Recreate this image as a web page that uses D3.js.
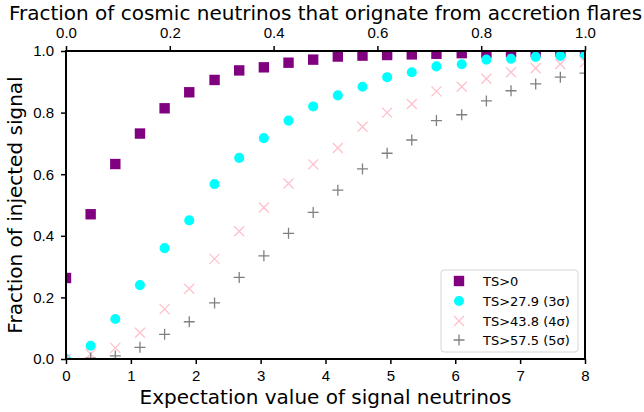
<!DOCTYPE html>
<html lang="en">
<head>
  <meta charset="UTF-8" />
  <title>Fraction of injected signal</title>
  <script src="https://cdn.jsdelivr.net/npm/d3@7"></script>
  <style>
    html, body { margin: 0; padding: 0; background: #fff; overflow: hidden; }
    svg { display: block; font-family: "DejaVu Sans", sans-serif; }
  </style>
</head>
<body>
  <script>
    // expectation value of signal neutrinos (bottom axis)
    const xVals = [0.00, 0.38, 0.76, 1.14, 1.52, 1.90, 2.29, 2.67, 3.05, 3.43, 3.81,
                   4.19, 4.57, 4.95, 5.33, 5.71, 6.10, 6.48, 6.86, 7.24, 7.62, 8.00];

    const ts0  = [0.263, 0.470, 0.633, 0.732, 0.814, 0.866, 0.906, 0.937, 0.947, 0.962, 0.972,
                  0.982, 0.985, 0.987, 0.989, 0.991, 0.993, 0.994, 0.996, 0.997, 0.998, 0.999];
    const ts3s = [0.000, 0.043, 0.130, 0.240, 0.360, 0.450, 0.568, 0.653, 0.717, 0.774, 0.820,
                  0.856, 0.884, 0.915, 0.931, 0.950, 0.957, 0.972, 0.975, 0.981, 0.984, 0.986];
    const ts4s = [0.000, 0.016, 0.036, 0.085, 0.162, 0.228, 0.325, 0.415, 0.492, 0.570, 0.632,
                  0.685, 0.754, 0.800, 0.828, 0.869, 0.884, 0.910, 0.931, 0.944, 0.958, 0.964];
    const ts5s = [0.000, 0.003, 0.010, 0.038, 0.080, 0.121, 0.182, 0.265, 0.335, 0.408, 0.476,
                  0.548, 0.617, 0.668, 0.711, 0.774, 0.793, 0.838, 0.871, 0.893, 0.915, 0.928];

    const seriesNames = ["TS>0", "TS>27.9 (3σ)", "TS>43.8 (4σ)", "TS>57.5 (5σ)"];
    const bottomTicks = [0, 1, 2, 3, 4, 5, 6, 7, 8];
    const topTicks = [0.0, 0.2, 0.4, 0.6, 0.8, 1.0];
    const leftTicks = [0.0, 0.2, 0.4, 0.6, 0.8, 1.0];

    const W = 644, H = 412;
    const m = { left: 66, right: 59, top: 51, bottom: 53 };
    const pw = W - m.left - m.right, ph = H - m.top - m.bottom;

    const svg = d3.select("body").append("svg").attr("width", W).attr("height", H);

    const x = d3.scaleLinear().domain([0, 8]).range([m.left, m.left + pw]);
    const xTop = d3.scaleLinear().domain([0, 1]).range([m.left, m.left + pw]);
    const y = d3.scaleLinear().domain([0, 1]).range([m.top + ph, m.top]);

    svg.append("defs").append("clipPath").attr("id", "plot-clip")
      .append("rect").attr("x", m.left).attr("y", m.top).attr("width", pw).attr("height", ph);

    const plot = svg.append("g").attr("clip-path", "url(#plot-clip)");

    const S = 10.4; // marker size
    const sq = d3.symbol().type(d3.symbolSquare).size(S * S);
    const ci = d3.symbol().type(d3.symbolCircle).size(Math.PI * 25.5);

    // draw one series of markers
    function drawSeries(vals, kind) {
      const g = plot.append("g");
      const pts = vals.map((v, i) => [x(xVals[i]), y(v)]);
      if (kind === "square") {
        g.selectAll("path").data(pts).join("path")
          .attr("d", sq).attr("transform", d => `translate(${d[0]},${d[1]})`)
          .attr("fill", "purple");
      } else if (kind === "circle") {
        g.selectAll("path").data(pts).join("path")
          .attr("d", ci).attr("transform", d => `translate(${d[0]},${d[1]})`)
          .attr("fill", "cyan");
      } else if (kind === "x") {
        const r = 5;
        g.selectAll("path").data(pts).join("path")
          .attr("d", d => `M${d[0]-r},${d[1]-r}L${d[0]+r},${d[1]+r}M${d[0]-r},${d[1]+r}L${d[0]+r},${d[1]-r}`)
          .attr("stroke", "pink").attr("stroke-width", 1.3).attr("fill", "none");
      } else {
        const r = 5.5;
        g.selectAll("path").data(pts).join("path")
          .attr("d", d => `M${d[0]-r},${d[1]}L${d[0]+r},${d[1]}M${d[0]},${d[1]-r}L${d[0]},${d[1]+r}`)
          .attr("stroke", "gray").attr("stroke-width", 1.3).attr("fill", "none");
      }
    }

    drawSeries(ts0, "square");
    drawSeries(ts3s, "circle");
    drawSeries(ts4s, "x");
    drawSeries(ts5s, "plus");

    // axes
    const tickFmt = d3.format(".1f");
    const styleAxis = g => {
      g.select(".domain").remove();
      g.selectAll(".tick line").attr("stroke", "#000").attr("stroke-width", 1.5);
      g.selectAll(".tick text").attr("fill", "#000").style("font-size", "15px");
    };

    svg.append("g").attr("transform", `translate(0,${m.top + ph})`)
      .call(d3.axisBottom(x).tickValues(bottomTicks).tickFormat(d3.format("d")).tickSize(5).tickPadding(6))
      .call(styleAxis);

    svg.append("g").attr("transform", `translate(0,${m.top})`)
      .call(d3.axisTop(xTop).tickValues(topTicks).tickFormat(tickFmt).tickSize(5).tickPadding(8))
      .call(styleAxis);

    svg.append("g").attr("transform", `translate(${m.left},0)`)
      .call(d3.axisLeft(y).tickValues(leftTicks).tickFormat(tickFmt).tickSize(5).tickPadding(7))
      .call(styleAxis);

    // frame
    svg.append("rect").attr("x", m.left).attr("y", m.top).attr("width", pw).attr("height", ph)
      .attr("fill", "none").attr("stroke", "#000").attr("stroke-width", 2);

    // axis labels
    svg.append("text").attr("x", m.left + pw / 2).attr("y", 404)
      .attr("text-anchor", "middle").style("font-size", "20px").text("Expectation value of signal neutrinos");
    svg.append("text").attr("x", m.left + pw / 2).attr("y", 19.5)
      .attr("text-anchor", "middle").style("font-size", "20px").text("Fraction of cosmic neutrinos that orignate from accretion flares");
    svg.append("text").attr("transform", `translate(22,${m.top + ph / 2}) rotate(-90)`)
      .attr("text-anchor", "middle").style("font-size", "20px").text("Fraction of injected signal");

    // legend
    const lg = svg.append("g");
    lg.append("rect").attr("x", 441).attr("y", 270).attr("width", 137).attr("height", 82).attr("rx", 3)
      .attr("fill", "#fff").attr("fill-opacity", 0.8).attr("stroke", "#d6d6d6").attr("stroke-width", 1);
    const rowY = [281, 301, 321, 340];
    const kinds = ["square", "circle", "x", "plus"];
    seriesNames.forEach((name, i) => {
      const cx = 459, cy = rowY[i];
      if (kinds[i] === "square") lg.append("path").attr("d", sq).attr("transform", `translate(${cx},${cy})`).attr("fill", "purple");
      else if (kinds[i] === "circle") lg.append("path").attr("d", ci).attr("transform", `translate(${cx},${cy})`).attr("fill", "cyan");
      else if (kinds[i] === "x") lg.append("path").attr("d", `M${cx-5},${cy-5}L${cx+5},${cy+5}M${cx-5},${cy+5}L${cx+5},${cy-5}`)
        .attr("stroke", "pink").attr("stroke-width", 1.3);
      else lg.append("path").attr("d", `M${cx-5.5},${cy}L${cx+5.5},${cy}M${cx},${cy-5.5}L${cx},${cy+5.5}`)
        .attr("stroke", "gray").attr("stroke-width", 1.3);
      lg.append("text").attr("x", 483).attr("y", cy).attr("dy", "0.35em").style("font-size", "13px").text(name);
    });
  </script>
</body>
</html>
